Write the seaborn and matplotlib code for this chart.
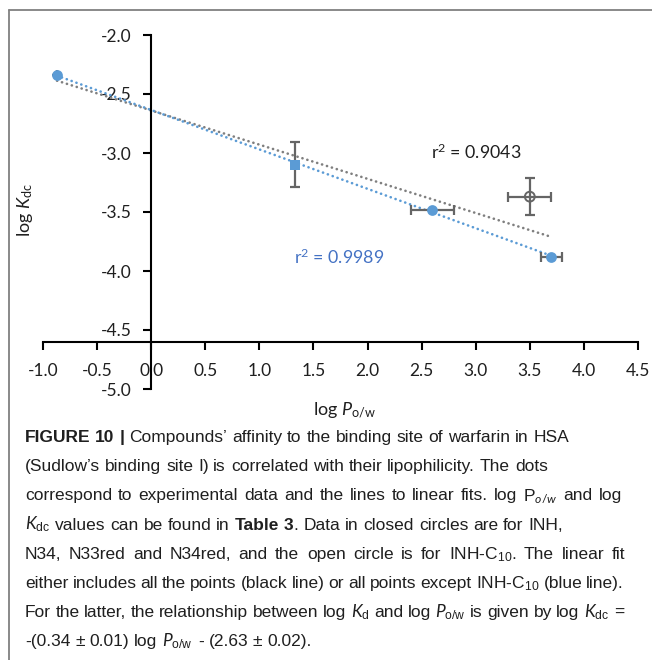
import numpy as np
import pandas as pd
import matplotlib
matplotlib.use("Agg")
import matplotlib.pyplot as plt
from matplotlib.lines import Line2D
import seaborn as sns

# data
log_pow = [-0.87, 1.33, 2.60, 3.70]
log_kdc = [-2.34, -3.10, -3.48, -3.88]
x_err = [0.0, 0.0, 0.20, 0.10]
y_err = [0.0, 0.19, 0.0, 0.0]

open_pow = [3.50]
open_kdc = [-3.37]
open_xerr = [0.20]
open_yerr = [0.155]

r2_all = "0.9043"
r2_closed = "0.9989"

x_ticks = [-1.0, -0.5, 0.0, 0.5, 1.0, 1.5, 2.0, 2.5, 3.0, 3.5, 4.0, 4.5]
y_ticks = [-2.0, -2.5, -3.0, -3.5, -4.0, -4.5, -5.0]

closed = pd.DataFrame({"x": log_pow, "y": log_kdc})
every = pd.DataFrame({"x": log_pow + open_pow, "y": log_kdc + open_kdc})

sns.set_theme(style="white")
plt.rcParams["font.family"] = ["Lato", "DejaVu Sans"]
plt.rcParams["mathtext.fontset"] = "custom"
plt.rcParams["mathtext.it"] = "Lato:italic"
plt.rcParams["mathtext.rm"] = "Lato"

BLUE = "#5B9BD5"
BLUE_TXT = "#4472C4"
GREY = "#7F7F7F"
ERR = "#656565"
TXT = "#1f1f1f"

W, H = 652, 660
fig = plt.figure(figsize=(W / 100, H / 100), dpi=100)
ax = fig.add_axes([43 / W, 1 - 389 / H, 595 / W, 354 / H])

# fit lines
dots = (0, (0.05, 1.9))
sns.regplot(data=every, x="x", y="y", scatter=False, ci=None, truncate=True, ax=ax,
            line_kws=dict(color=GREY, lw=1.9, ls=dots, dash_capstyle="round", zorder=1))
sns.regplot(data=closed, x="x", y="y", scatter=False, ci=None, truncate=True, ax=ax,
            line_kws=dict(color=BLUE, lw=1.9, ls=dots, dash_capstyle="round", zorder=2))

# error bars
ax.errorbar(log_pow, log_kdc, xerr=x_err, yerr=y_err, fmt="none", ecolor=ERR,
            elinewidth=1.6, capsize=3.5, capthick=1.6, zorder=3)
ax.errorbar(open_pow, open_kdc, xerr=open_xerr, yerr=open_yerr, fmt="none", ecolor=ERR,
            elinewidth=1.6, capsize=3.5, capthick=1.6, zorder=3)

# points
sns.scatterplot(x=log_pow[:1] + log_pow[2:], y=log_kdc[:1] + log_kdc[2:], ax=ax, color=BLUE,
                s=60, edgecolor=BLUE, linewidth=0, zorder=4)
sns.scatterplot(x=log_pow[1:2], y=log_kdc[1:2], ax=ax, color=BLUE, marker="s",
                s=50, edgecolor=BLUE, linewidth=0, zorder=4)
sns.scatterplot(x=open_pow, y=open_kdc, ax=ax, facecolor="none", edgecolor=ERR,
                s=50, linewidth=1.4, zorder=4)

ax.set_xlim(-1.0, 4.5)
ax.set_ylim(-5.0, -2.0)
ax.set_xticks(x_ticks)
ax.set_yticks(y_ticks)
ax.set_xticklabels([f"{v:.1f}" for v in x_ticks])
ax.set_yticklabels([f"{v:.1f}" for v in y_ticks])
ax.set_xlabel("")
ax.set_ylabel("")

for s in ["top", "right"]:
    ax.spines[s].set_visible(False)
ax.spines["left"].set_position(("data", 0.0))
ax.spines["bottom"].set_position(("data", -4.6))
for s in ["left", "bottom"]:
    ax.spines[s].set_color("black")
    ax.spines[s].set_linewidth(1.5)
ax.tick_params(axis="both", which="both", direction="out", length=6, width=1.5,
               colors="black", labelsize=12.5, labelcolor=TXT)
ax.tick_params(axis="y", pad=8, left=True)
ax.tick_params(axis="x", pad=9, bottom=True)
ax.patch.set_alpha(0)

ax.text(3.0, -2.99, "r$^{\\mathdefault{2}}$ = " + r2_all, color=TXT, fontsize=12.8,
        ha="center", va="center")
ax.text(1.74, -3.88, "r$^{\\mathdefault{2}}$ = " + r2_closed, color=BLUE_TXT, fontsize=12.8,
        ha="center", va="center")

fig.text(25 / W, 1 - 210 / H, "log $\\mathit{K}_{\\mathdefault{dc}}$", rotation=90,
         fontsize=13, color=TXT, ha="center", va="center")
fig.text(345 / W, 1 - 410 / H, "log $\\mathit{P}_{\\mathdefault{o/w}}$",
         fontsize=13, color=TXT, ha="center", va="center")

# frame
fig.add_artist(Line2D([9 / W, 9 / W], [0, 1 - 10 / H], color="#808080", lw=1.3,
                      transform=fig.transFigure))
fig.add_artist(Line2D([9 / W, 1], [1 - 10 / H, 1 - 10 / H], color="#808080", lw=1.3,
                      transform=fig.transFigure))

# caption: (segments, right end in px for justified lines, else None)
cap_font = ["Liberation Sans", "DejaVu Sans"]
cap_size = 12.5
cap_x0 = 25
caption = [
    ([("FIGURE 10 |", "bold"), (" Compounds\u2019 affinity to the binding site of warfarin in HSA", "normal")], None),
    ([("(Sudlow\u2019s binding site I) is correlated with their lipophilicity. The dots", "normal")], None),
    ([("correspond to experimental data and the lines to linear fits. log P$_{\\mathit{o/w}}$ and log", "normal")], 622),
    ([("$\\mathit{K}_{\\mathdefault{dc}}$ values can be found in", "normal"), (" Table 3", "bold"),
      (". Data in closed circles are for INH,", "normal")], None),
    ([("N34, N33red and N34red, and the open circle is for INH-C$_{\\mathdefault{10}}$. The linear fit", "normal")], 625),
    ([("either includes all the points (black line) or all points except INH-C$_{\\mathdefault{10}}$ (blue line).", "normal")], 624),
    ([("For the latter, the relationship between log $\\mathit{K}_{\\mathdefault{d}}$ and log "
       "$\\mathit{P}_{\\mathdefault{o/w}}$ is given by log $\\mathit{K}_{\\mathdefault{dc}}$ =", "normal")], 624),
    ([("-(0.34 \u00b1 0.01) log $\\mathit{P}_{\\mathdefault{o/w}}$ - (2.63 \u00b1 0.02).", "normal")], None),
]
y0 = 442
step = 29.2

items = []
for li, (segs, right) in enumerate(caption):
    yb = 1 - (y0 + li * step) / H
    toks = []
    for text, wt in segs:
        words = text.split(" ")
        for k, wd in enumerate(words):
            if wd == "":
                continue
            toks.append([wd, wt, (k > 0) and bool(toks)])
    arts = [fig.text(0, yb, t[0], family=cap_font, fontsize=cap_size, weight=t[1],
                     color=TXT, va="baseline") for t in toks]
    items.append((toks, arts, right, yb))

sp = fig.text(0, 0, "x x", family=cap_font, fontsize=cap_size)
sp2 = fig.text(0, 0, "xx", family=cap_font, fontsize=cap_size)
fig.canvas.draw()
rend = fig.canvas.get_renderer()
space_w = sp.get_window_extent(rend).width - sp2.get_window_extent(rend).width
sp.remove()
sp2.remove()

for toks, arts, right, yb in items:
    widths = [a.get_window_extent(rend).width for a in arts]
    ngap = sum(1 for t in toks if t[2])
    gap = space_w
    if right is not None:
        gap = max(space_w * 0.8, (right - cap_x0 - sum(widths)) / max(ngap, 1))
    x = cap_x0
    for t, a, w in zip(toks, arts, widths):
        if t[2]:
            x += gap
        a.set_position((x / W, yb))
        x += w

fig.savefig("out.png", dpi=100)
